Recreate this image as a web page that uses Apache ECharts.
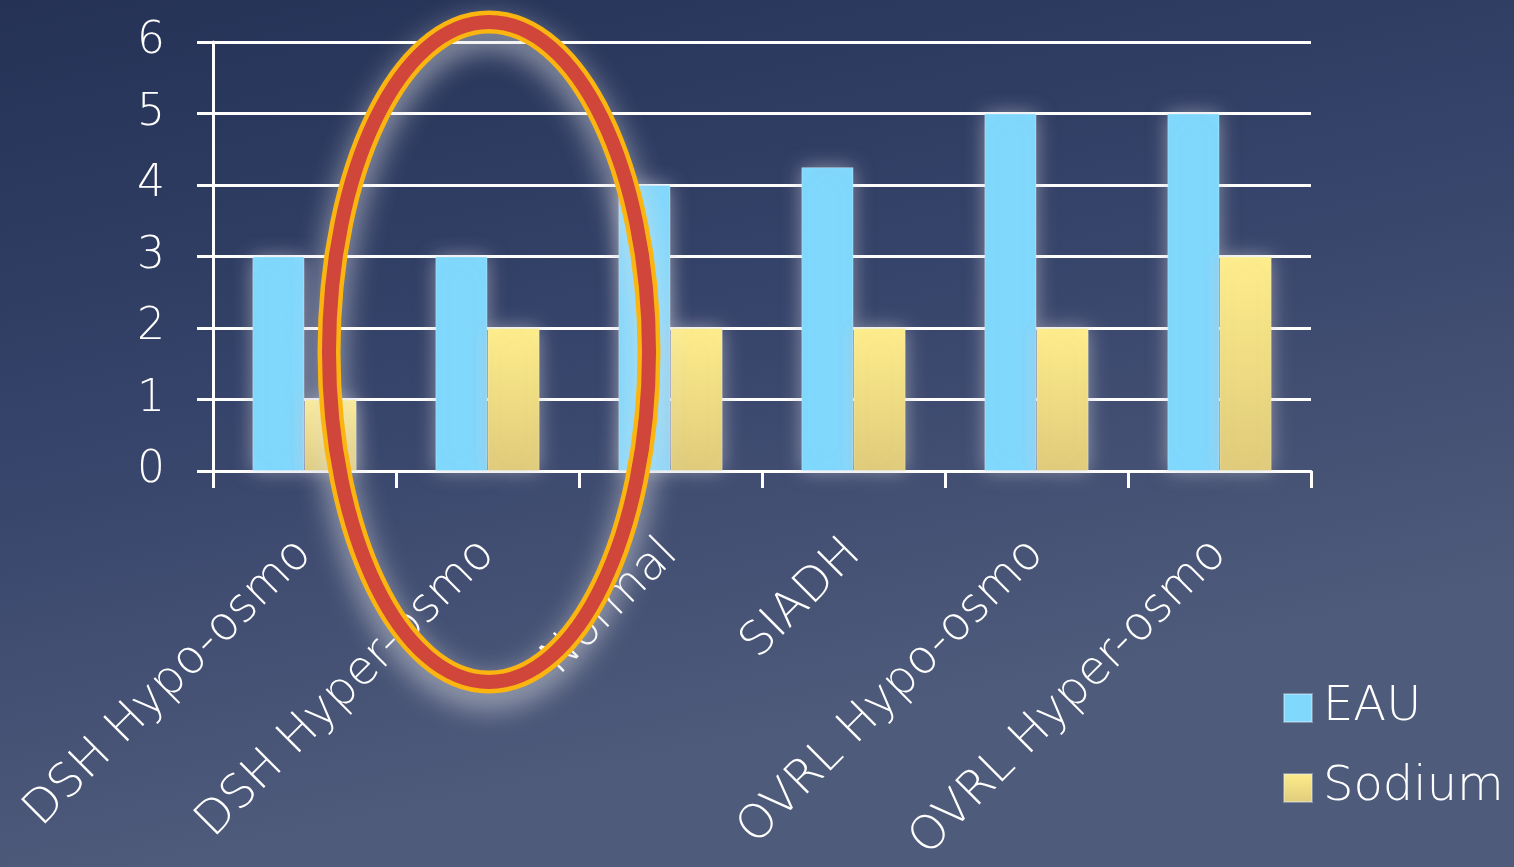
<!DOCTYPE html>
<html>
<head>
<meta charset="utf-8">
<title>EAU / Sodium</title>
<script src="https://cdn.jsdelivr.net/npm/echarts@6/dist/echarts.min.js"></script>
<style>
  html, body { margin: 0; padding: 0; width: 100%; height: 100%; overflow: hidden; }
  #chart { width: 1514px; height: 867px; }
</style>
</head>
<body>
<div id="chart"></div>
<script>
// Categories along the x axis
const categories = ['DSH Hypo-osmo', 'DSH Hyper-osmo', 'Normal', 'SIADH', 'OVRL Hypo-osmo', 'OVRL Hyper-osmo'];
// Series values
const eauValues = [3, 3, 4, 4.25, 5, 5];
const sodiumValues = [1, 2, 2, 2, 2, 3];
// Value axis range
const yMin = 0;
const yMax = 6;
const yStep = 1;

const FONT = '"DejaVu Sans", "Liberation Sans", sans-serif';
const chart = echarts.init(document.getElementById('chart'), null, { renderer: 'canvas' });

const barShadow = {
  shadowBlur: 20,
  shadowColor: 'rgba(200, 200, 210, 0.6)',
  borderColor: 'rgba(235, 245, 255, 0.35)',
  borderWidth: 1
};

chart.setOption({
  backgroundColor: {
    type: 'linear', x: 0, y: 0, x2: 0.12, y2: 1,
    colorStops: [
      { offset: 0, color: '#253256' },
      { offset: 0.5, color: '#36436a' },
      { offset: 1, color: '#4f5b7b' }
    ]
  },
  animation: false,
  grid: { left: 213, right: 203, top: 42, bottom: 396, containLabel: false },
  legend: {
    orient: 'vertical',
    left: 1278,
    top: 679,
    itemWidth: 28,
    itemHeight: 28,
    itemGap: 32,
    icon: 'rect',
    textStyle: { color: '#ffffff', fontSize: 48, lineHeight: 48, fontFamily: FONT, fontWeight: 300, padding: [0, 0, 0, 6] },
    data: ['EAU', 'Sodium']
  },
  xAxis: {
    type: 'category',
    data: categories,
    boundaryGap: true,
    axisLine: { show: true, lineStyle: { color: '#ffffff', width: 3 } },
    axisTick: { show: true, length: 17, alignWithLabel: false, lineStyle: { color: '#ffffff', width: 3 } },
    axisLabel: {
      interval: 0,
      rotate: 45,
      margin: 76,
      color: '#ffffff',
      fontSize: 47,
      fontFamily: FONT,
      fontWeight: 300
    },
    splitLine: { show: false }
  },
  yAxis: {
    type: 'value',
    min: yMin,
    max: yMax,
    interval: yStep,
    axisLine: { show: true, lineStyle: { color: '#ffffff', width: 3 } },
    axisTick: { show: true, length: 16, lineStyle: { color: '#ffffff', width: 3 } },
    axisLabel: { margin: 48, color: '#ffffff', fontSize: 44, fontFamily: FONT, fontWeight: 300, padding: [12, 0, 0, 0] },
    splitLine: { show: true, lineStyle: { color: '#ffffff', width: 3 } }
  },
  series: [
    {
      name: 'EAU',
      type: 'bar',
      data: eauValues,
      barGap: '0%',
      barCategoryGap: '43%',
      itemStyle: Object.assign({ color: '#80d8fd' }, barShadow)
    },
    {
      name: 'Sodium',
      type: 'bar',
      data: sodiumValues,
      barGap: '0%',
      barCategoryGap: '43%',
      itemStyle: Object.assign({
        color: {
          type: 'linear', x: 0, y: 0, x2: 0, y2: 1,
          colorStops: [
            { offset: 0, color: '#feed8c' },
            { offset: 1, color: '#dfcb7a' }
          ]
        }
      }, barShadow)
    }
  ],
  // Highlight ring around the second category
  graphic: [
    {
      type: 'ellipse',
      z: 100,
      shape: { cx: 489, cy: 352, rx: 160, ry: 330 },
      style: {
        fill: 'none',
        stroke: '#fbb511',
        lineWidth: 23,
        shadowBlur: 30,
        shadowOffsetY: 12,
        shadowColor: 'rgba(225, 225, 230, 0.7)'
      }
    },
    {
      type: 'ellipse',
      z: 101,
      shape: { cx: 489, cy: 352, rx: 160, ry: 330 },
      style: {
        fill: 'none',
        stroke: '#d0463a',
        lineWidth: 14
      }
    }
  ]
});
</script>
</body>
</html>
